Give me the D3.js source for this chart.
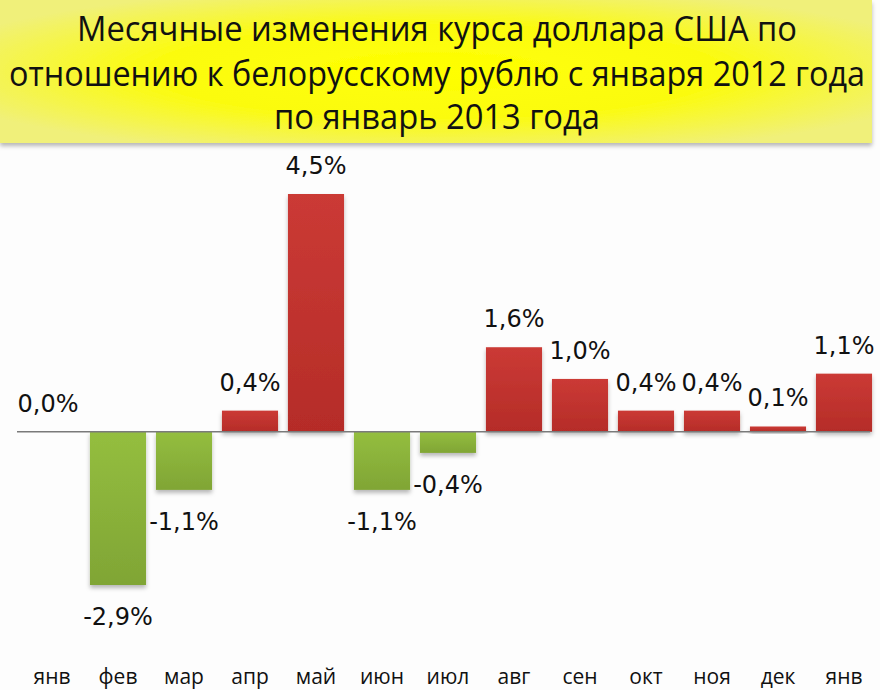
<!DOCTYPE html>
<html><head><meta charset="utf-8">
<script src="https://cdn.jsdelivr.net/npm/d3@7"></script>
<style>
html,body{margin:0;padding:0;background:#fdfdfd;}
svg{display:block;}
</style></head>
<body>
<script>
const titleLines = ["Месячные изменения курса доллара США по",
  "отношению к белорусскому рублю с января 2012 года",
  "по январь 2013 года"];
const months = ["янв","фев","мар","апр","май","июн","июл","авг","сен","окт","ноя","дек","янв"];
const values = [0.0,-2.9,-1.1,0.4,4.5,-1.1,-0.4,1.6,1.0,0.4,0.4,0.1,1.1];

const W = 880, H = 690;
const svg = d3.select("body").append("svg").attr("width", W).attr("height", H);
const defs = svg.append("defs");

const yg = defs.append("radialGradient").attr("id","yel").attr("cx","50%").attr("cy","50%").attr("r","60%");
yg.append("stop").attr("offset","0%").attr("stop-color","#ffff00");
yg.append("stop").attr("offset","55%").attr("stop-color","#fbfb10");
yg.append("stop").attr("offset","100%").attr("stop-color","#f0f07a");

const rg = defs.append("linearGradient").attr("id","red").attr("x1",0).attr("y1",0).attr("x2",0).attr("y2",1);
rg.append("stop").attr("offset","0%").attr("stop-color","#cb3a35");
rg.append("stop").attr("offset","100%").attr("stop-color","#b52c28");
const gg = defs.append("linearGradient").attr("id","green").attr("x1",0).attr("y1",0).attr("x2",0).attr("y2",1);
gg.append("stop").attr("offset","0%").attr("stop-color","#94be3f");
gg.append("stop").attr("offset","100%").attr("stop-color","#80a535");

const sh = defs.append("filter").attr("id","shadow").attr("x","-20%").attr("y","-20%").attr("width","140%").attr("height","150%");
sh.append("feDropShadow").attr("dx",0).attr("dy",3).attr("stdDeviation",2).attr("flood-color","#000").attr("flood-opacity",0.28);

// title box
svg.append("rect").attr("x",0).attr("y",0).attr("width",872).attr("height",143)
  .attr("fill","url(#yel)").attr("filter","url(#shadow)");
const titleY = [41, 86, 129];
const titleW = [720, 856, 326];
titleLines.forEach((t,i)=>{
  svg.append("text").attr("transform",`translate(437,${titleY[i]}) scale(1,1.12)`)
    .attr("text-anchor","middle")
    .attr("font-family","'Open Sans',sans-serif")
    .attr("font-size",31).attr("fill","#111")
    .attr("textLength",titleW[i]).attr("lengthAdjust","spacingAndGlyphs")
    .text(t);
});

const x = d3.scaleBand().domain(d3.range(months.length)).range([19, 877])
  .paddingInner(0.15).paddingOuter(0.075);
const y = d3.scaleLinear().domain([-2.9, 4.5]).range([585, 194]);

const fmt = v => (v < 0 ? "-" : "") + Math.abs(v).toFixed(1).replace(".", ",") + "%";

// bars
svg.append("g").selectAll("rect").data(values).join("rect")
  .attr("x",(d,i)=>x(i)).attr("width",x.bandwidth())
  .attr("y",d=>y(Math.max(0,d))).attr("height",d=>Math.abs(y(d)-y(0)))
  .attr("fill",d=>d>=0?"url(#red)":"url(#green)")
  .attr("filter","url(#shadow)");

// zero line
svg.append("line").attr("x1",17).attr("x2",870).attr("y1",y(0)).attr("y2",y(0))
  .attr("stroke","#7a7a7a").attr("stroke-width",1.5);

// value labels
svg.append("g").selectAll("text").data(values).join("text")
  .attr("x",(d,i)=>x(i)+x.bandwidth()/2 + (i===0?-4:0))
  .attr("y",d=> d>=0 ? y(d)-20 : y(d)+40)
  .attr("text-anchor","middle")
  .attr("font-family","'DejaVu Sans',sans-serif").attr("font-size",24).attr("fill","#111")
  .text(d=>fmt(d));

// category axis
const axis = d3.axisBottom(x).tickSize(0).tickPadding(0).tickFormat(i=>months[i]);
const ag = svg.append("g").attr("transform","translate(0,663)").call(axis);
ag.select(".domain").remove();
ag.selectAll("text").attr("font-family","'Open Sans',sans-serif").attr("font-size",21)
  .attr("fill","#111").attr("dy","0").attr("y",21);
</script>
</body></html>
